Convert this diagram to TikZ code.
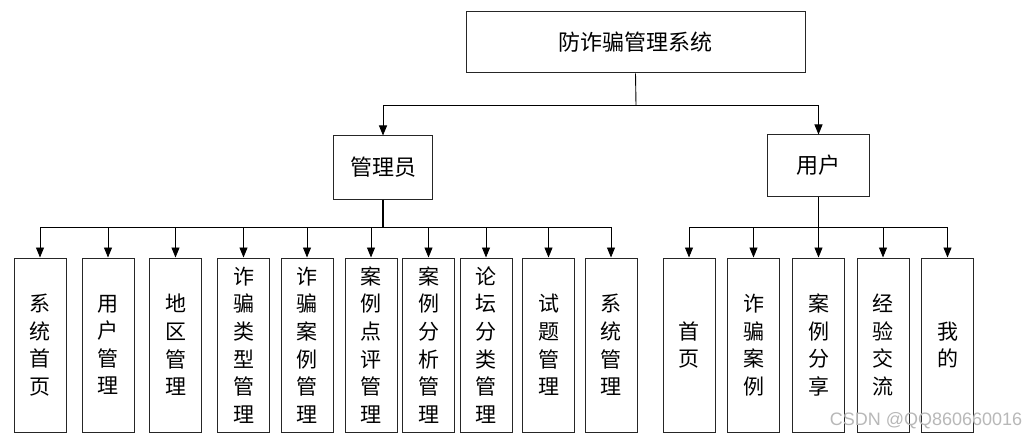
\documentclass[tikz,border=0pt]{standalone}
\usepackage{fontspec}
\newfontfamily\cjk{Noto Sans CJK SC}
\setsansfont{Liberation Sans}
\usetikzlibrary{arrows.meta}
\tikzset{
  box/.style={draw=black!85, line width=1pt, inner sep=0pt, align=center},
  topbox/.style={box, font=\cjk\fontsize{22}{26}\selectfont},
  leaf/.style={box, minimum width=52pt, minimum height=174pt, text width=22pt,
     font=\cjk\fontsize{21}{27.6}\selectfont},
  link/.style={draw=black, line width=0.9pt},
  arr/.style={link, -{Triangle[width=8pt,length=10pt]}},
}
\begin{document}
\begin{tikzpicture}[x=1pt,y=-1pt]
\useasboundingbox (0,0) rectangle (1033,441);
\fill[white] (0,0) rectangle (1033,441);
\node[topbox, minimum width=339pt, minimum height=61pt] (root) at (635.5,42.5) {防诈骗管理系统};
\node[topbox, minimum width=99pt, minimum height=63pt] (admin) at (383,167.5) {管理员};
\node[topbox, minimum width=102pt, minimum height=61pt] (user) at (818.5,165.5) {用户};
\coordinate (j1) at (636,105);
\draw[link] (root.south) -- (j1);
\draw[arr] (j1) -| (admin.north);
\draw[arr] (j1) -| (user.north);
% admin children
\node[leaf] (a1) at (40,345) {系\\统\\首\\页};
\node[leaf] (a2) at (108,345) {用\\户\\管\\理};
\node[leaf] (a3) at (175.5,345) {地\\区\\管\\理};
\node[leaf] (a4) at (243.5,345) {诈\\骗\\类\\型\\管\\理};
\node[leaf] (a5) at (307,345) {诈\\骗\\案\\例\\管\\理};
\node[leaf] (a6) at (371,345) {案\\例\\点\\评\\管\\理};
\node[leaf] (a7) at (428.5,345) {案\\例\\分\\析\\管\\理};
\node[leaf] (a8) at (486,345) {论\\坛\\分\\类\\管\\理};
\node[leaf] (a9) at (548.5,345) {试\\题\\管\\理};
\node[leaf] (a10) at (611,345) {系\\统\\管\\理};
\coordinate (j2) at (383,227);
\draw[link, line width=1.4pt] (admin.south) -- (j2);
\foreach \n in {a1,a2,a3,a4,a5,a6,a7,a8,a9,a10}
  \draw[arr] (j2) -| (\n.north);
% user children
\node[leaf] (u1) at (689,345) {首\\页};
\node[leaf] (u2) at (753.5,345) {诈\\骗\\案\\例};
\node[leaf] (u3) at (818.5,345) {案\\例\\分\\享};
\node[leaf] (u4) at (883,345) {经\\验\\交\\流};
\node[leaf] (u5) at (947.5,345) {我\\的};
\coordinate (j3) at (818.5,227);
\draw[link] (user.south) -- (j3);
\foreach \n in {u1,u2,u3,u4,u5}
  \draw[arr] (j3) -| (\n.north);
% watermark
\node[font=\sffamily\fontsize{18}{20}\selectfont, text=black!28, inner sep=0pt] (wm) at (926,421) {CSDN @QQ860660016};
\end{tikzpicture}
\end{document}
